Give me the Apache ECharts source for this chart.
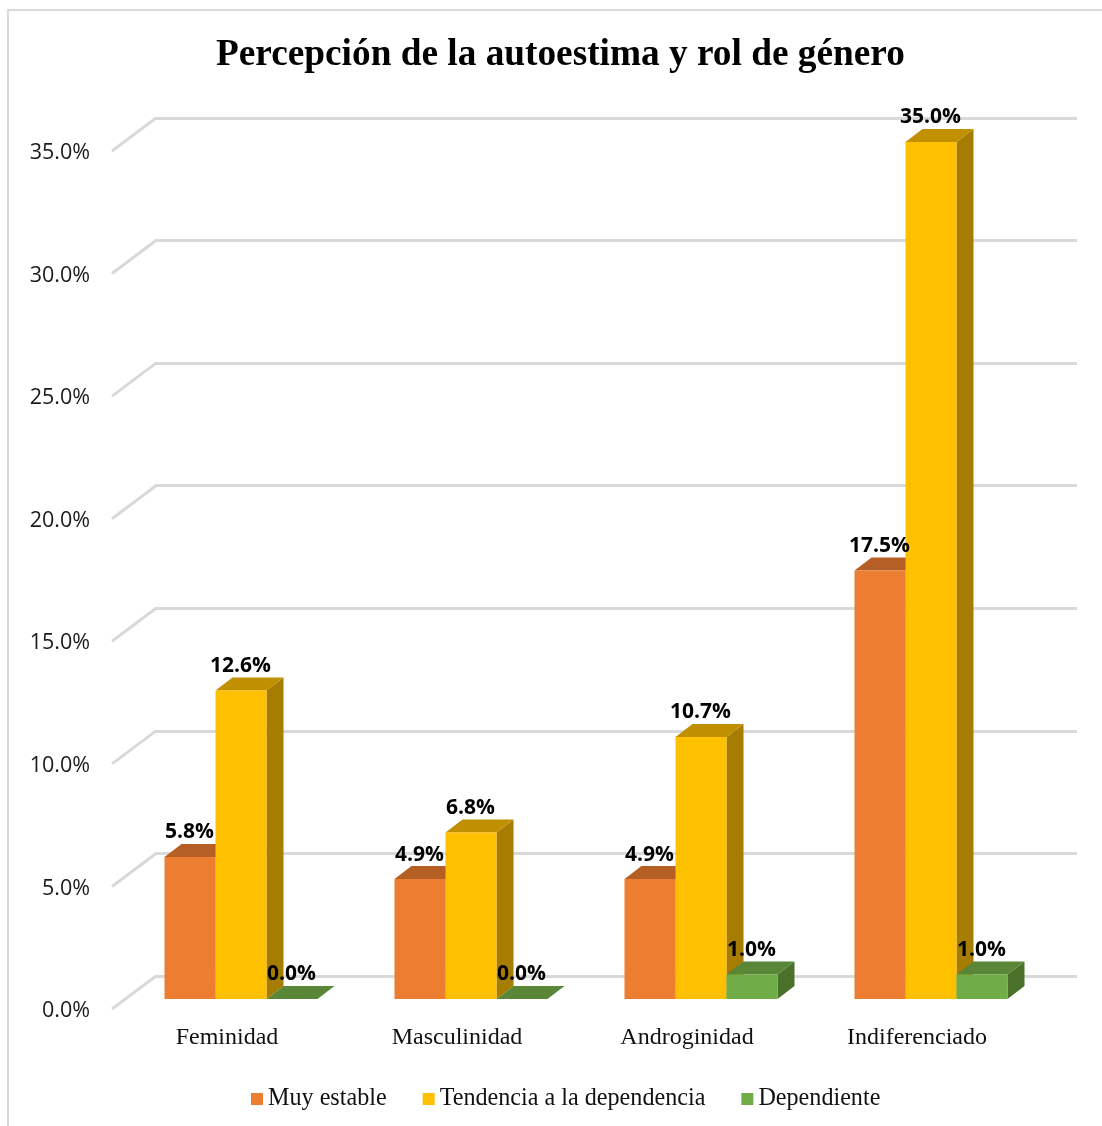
<!DOCTYPE html>
<html>
<head>
<meta charset="utf-8">
<style>
  html, body { margin: 0; padding: 0; background: #fff; }
  #main { width: 1102px; height: 1126px; }
</style>
<script src="https://cdn.jsdelivr.net/npm/echarts@6/dist/echarts.min.js"></script>
</head>
<body>
<div id="main"></div>
<script>
var categories = ['Feminidad', 'Masculinidad', 'Androginidad', 'Indiferenciado'];
var muyEstable = [5.8, 4.9, 4.9, 17.5];
var tendencia = [12.6, 6.8, 10.7, 35.0];
var dependiente = [0.0, 0.0, 1.0, 1.0];
var yTicks = [0, 5, 10, 15, 20, 25, 30, 35];

var myChart = echarts.init(document.getElementById('main'));

var gridColor = '#d9d9d9';
var barW = 51;
var depthX = 17;
var depthY = 13;

// each series is a box: front, top and side faces around the value the axis gives
function boxSeries(name, values, slot, front, top, side) {
  return {
    name: name,
    type: 'custom',
    xAxisIndex: 2,
    yAxisIndex: 2,
    itemStyle: { color: front },
    encode: { x: 0, y: 1 },
    data: values.map(function (v, i) { return [i, v]; }),
    renderItem: function (params, api) {
      var val = api.value(1);
      var p = api.coord([api.value(0), val]);
      var base = api.coord([api.value(0), 0]);
      var x0 = p[0] + (slot - 1.5) * barW;
      var x1 = x0 + barW;
      var yt = p[1];
      var yb = base[1];
      return {
        type: 'group',
        children: [
          { type: 'polygon', shape: { points: [[x1, yt], [x1 + depthX, yt - depthY], [x1 + depthX, yb - depthY], [x1, yb]] }, style: { fill: side } },
          { type: 'polygon', shape: { points: [[x0, yt], [x0 + depthX, yt - depthY], [x1 + depthX, yt - depthY], [x1, yt]] }, style: { fill: top } },
          { type: 'rect', shape: { x: x0, y: yt, width: barW, height: yb - yt }, style: { fill: front } },
          {
            type: 'text',
            z2: 20,
            style: {
              x: x0 + barW / 2 - 0.5,
              y: yt - 24.5,
              text: val.toFixed(1) + '%',
              align: 'center',
              verticalAlign: 'middle',
              fontFamily: 'Open Sans',
              fontWeight: 'bold',
              fontSize: 21,
              fill: '#000'
            }
          }
        ]
      };
    }
  };
}

var option = {
  animation: false,
  backgroundColor: '#fff',
  title: {
    text: 'Percepción de la autoestima y rol de género',
    left: 211,
    top: 32,
    textStyle: { fontFamily: 'Liberation Serif', fontWeight: 'bold', fontSize: 37.3, color: '#000' }
  },
  legend: {
    data: ['Muy estable', 'Tendencia a la dependencia', 'Dependiente'],
    left: 246,
    top: 1082,
    icon: 'rect',
    itemWidth: 12,
    itemHeight: 12,
    itemGap: 36,
    textStyle: { fontFamily: 'Liberation Serif', fontSize: 24.15, color: '#111' }
  },
  graphic: [
    {
      type: 'polyline',
      shape: { points: [[8, 1126], [8, 10], [1102, 10]] },
      style: { fill: null, stroke: gridColor, lineWidth: 2 }
    }
  ],
  // label plane, back wall (gridlines), bar plane
  grid: [
    { left: 112, top: 153, width: 920, height: 858 },
    { left: 155, top: 118, width: 922, height: 858 },
    { left: 126, top: 142, width: 920, height: 857 }
  ],
  xAxis: [
    {
      type: 'category',
      gridIndex: 0,
      data: categories,
      axisLine: { show: false },
      axisTick: { show: false },
      axisLabel: { margin: 15, fontFamily: 'Liberation Serif', fontSize: 24, color: '#111' }
    },
    { type: 'category', gridIndex: 1, data: categories, show: false },
    { type: 'category', gridIndex: 2, data: categories, show: false }
  ],
  yAxis: [
    {
      type: 'value',
      gridIndex: 0,
      min: 0,
      max: 35,
      interval: 5,
      axisLine: { show: false },
      axisTick: { show: false },
      splitLine: { show: false },
      axisLabel: {
        margin: 22,
        fontFamily: 'Open Sans',
        fontSize: 21.5,
        color: '#1a1a1a',
        formatter: function (v) { return v.toFixed(1) + '%'; }
      }
    },
    {
      type: 'value',
      gridIndex: 1,
      min: 0,
      max: 35,
      interval: 5,
      axisLine: { show: false },
      axisTick: { show: false },
      axisLabel: { show: false },
      splitLine: { show: true, lineStyle: { color: gridColor, width: 3 } }
    },
    { type: 'value', gridIndex: 2, min: 0, max: 35, show: false }
  ],
  series: [
    {
      // slanted side wall ticks, from just above each label to the back wall
      name: 'ticks',
      type: 'custom',
      xAxisIndex: 0,
      yAxisIndex: 0,
      silent: true,
      encode: { y: 1 },
      data: yTicks.map(function (t) { return [0, t]; }),
      renderItem: function (params, api) {
        var p = api.coord([0, api.value(1)]);
        var x = params.coordSys.x;
        return {
          type: 'line',
          shape: { x1: x, y1: p[1] - 2, x2: x + 44, y2: p[1] - 35 },
          style: { stroke: gridColor, lineWidth: 3 }
        };
      }
    },
    boxSeries('Muy estable', muyEstable, 0, '#ED7D31', '#B65F24', '#A8561F'),
    boxSeries('Tendencia a la dependencia', tendencia, 1, '#FFC000', '#C09000', '#A67D00'),
    boxSeries('Dependiente', dependiente, 2, '#70AD47', '#5A8637', '#4A7129')
  ]
};

myChart.setOption(option);
window.addEventListener('resize', myChart.resize);
</script>
</body>
</html>
